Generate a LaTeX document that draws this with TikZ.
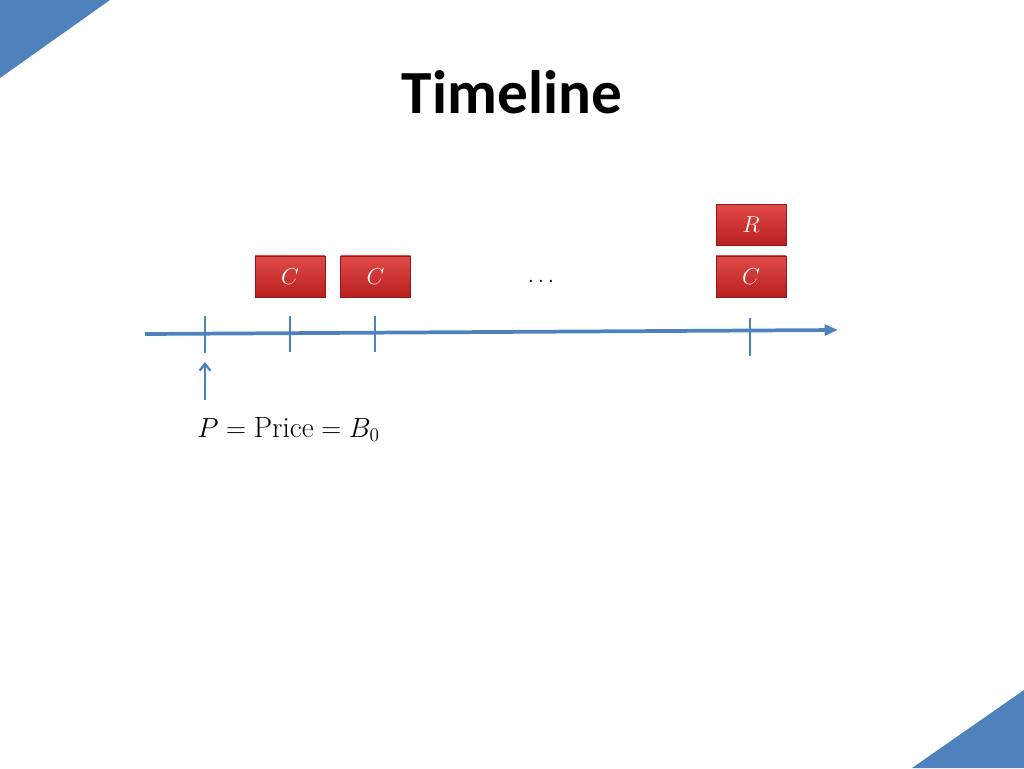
\documentclass[tikz,border=0pt]{standalone}
\usepackage{fontspec}
\setsansfont{Carlito}
\usetikzlibrary{arrows.meta}
\definecolor{slblue}{HTML}{4F81BD}
\definecolor{boxtop}{HTML}{E04A48}
\definecolor{boxbot}{HTML}{B8201F}
\begin{document}
\begin{tikzpicture}[x=0.75pt,y=-0.75pt,
  cbox/.style={minimum width=52.5pt,minimum height=31pt,inner sep=0pt,
    top color=boxtop,bottom color=boxbot,draw=boxbot!80!black,line width=0.4pt,
    text=white,font=\fontsize{19}{19}\selectfont},
  tl/.style={draw=slblue,line width=2.8pt},
  tick/.style={draw=slblue,line width=2pt}]
\useasboundingbox (0,0) rectangle (1024,768);
\fill[slblue] (0,0) -- (110,0) -- (0,78) -- cycle;
\fill[slblue] (1024,690) -- (1024,768) -- (912,768) -- cycle;
\node (title) at (512,92) {\sffamily\bfseries\fontsize{46}{48}\selectfont Timeline};
\coordinate (a0) at (145,334);
\coordinate (a1) at (838,330);
\draw[tl,-{Triangle[length=10pt,width=8pt]}] (a0) -- (a1);
\foreach \n/\x/\ya/\yb in {t0/205/316/353,t1/290/316/352,t2/375/316/352,t3/750/318/356}{
  \coordinate (\n a) at (\x,\ya);
  \coordinate (\n b) at (\x,\yb);
  \draw[tick] (\n a) -- (\n b);
}
\node[cbox] (c1) at (290,276.5) {$C$};
\node[cbox] (c2) at (375.5,276.5) {$C$};
\node[cbox] (c3) at (751,276.5) {$C$};
\node[cbox] (r) at (751,225) {$R$};
\node[anchor=base,inner sep=0pt] (dots) at (541,282) {\fontsize{16}{16}\selectfont$\ldots$};
\coordinate (pa) at (205,400);
\coordinate (pb) at (205,362);
\draw[draw=slblue,line width=1.8pt,-{Straight Barb[length=5pt,width=8pt]}] (pa) -- (pb);
\node[anchor=base west,inner sep=0pt] (lab) at (197,437) {\fontsize{22}{24}\selectfont$P = \mathrm{Price} = B_0$};
\end{tikzpicture}
\end{document}
